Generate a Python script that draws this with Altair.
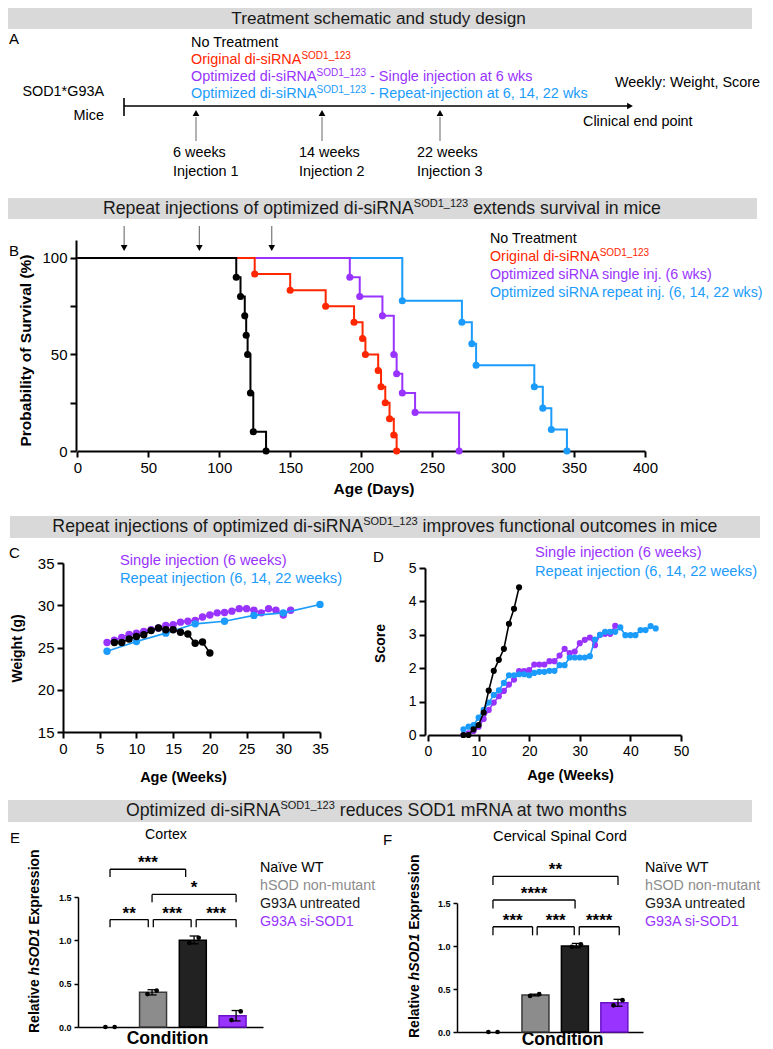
import altair as alt
import pandas as pd

FONT = "Liberation Sans"
RED = "#ff2600"
PURPLE = "#9933ff"
BLUE = "#1b9cfc"
BLACK = "#000000"
BARGRAY = "#d9d9d9"
TITLECOL = "#1a1a1a"

W, H = 757, 1041
M = 8  # page margin

# ---------------- data ----------------
# Panel B: Kaplan-Meier events (day of death, % surviving after it)
b_none_days = [112, 115, 118, 119, 120, 122, 124, 133]
b_none_surv = [90, 80, 70, 60, 50, 30, 10, 0]
b_orig_days = [125, 150, 175, 195, 201, 203, 212, 214, 217, 220, 223, 225]
b_orig_surv = [91.7, 83.3, 75, 66.7, 58.3, 50, 41.7, 33.3, 25, 16.7, 8.3, 0]
b_single_days = [192, 199, 215, 223, 225, 229, 238, 269]
b_single_surv = [90, 80, 70, 50, 40, 30, 20, 0]
b_repeat_days = [229, 271, 278, 281, 322, 328, 334, 345]
b_repeat_surv = [77.8, 66.7, 55.6, 44.4, 33.3, 22.2, 11.1, 0]
b_arrow_days = [33, 86, 137]

# Panel C: weight (g) by age (weeks)
c_single_wk = list(range(6, 32))
c_single_wt = [25.6, 25.85, 26.2, 26.55, 26.7, 26.9, 27.1, 27.3, 27.6, 27.7, 28.0, 28.1, 28.2,
               28.6, 28.85, 29.1, 29.15, 29.3, 29.6, 29.6, 29.4, 29.1, 29.6, 29.4, 28.85, 29.4]
c_repeat_wk = [6, 10, 14, 18, 22, 26, 30, 35]
c_repeat_wt = [24.55, 25.7, 26.7, 27.8, 28.1, 28.8, 29.1, 30.1]
c_none_wk = list(range(7, 21))
c_none_wt = [25.6, 25.6, 26.0, 26.3, 26.5, 27.0, 27.3, 27.1, 27.1, 26.8, 26.6, 25.5, 25.65, 24.35]

# Panel D: score by age (weeks)
d_single_wk = list(range(7, 38))
d_single_sc = [0.0, 0.05, 0.12, 0.25, 0.48, 0.75, 0.97, 1.16, 1.32, 1.51, 1.66, 1.91, 1.91, 1.94,
               2.11, 2.11, 2.11, 2.21, 2.21, 2.38, 2.58, 2.45, 2.5, 2.75, 2.85, 2.92, 2.69, 3.0,
               3.03, 3.03, 3.27]
d_repeat_wk = list(range(7, 46))
d_repeat_sc = [0.17, 0.25, 0.3, 0.52, 0.75, 0.97, 1.2, 1.34, 1.56, 1.79, 1.79, 1.82, 1.82, 1.79,
               1.86, 1.89, 1.89, 1.92, 1.92, 2.09, 2.09, 2.32, 2.32, 2.32, 2.32, 2.36, 2.86, 3.0,
               3.09, 3.09, 3.09, 3.22, 2.99, 2.99, 2.99, 3.14, 3.14, 3.26, 3.19]
d_none_wk = list(range(7, 19))
d_none_sc = [0, 0, 0.17, 0.3, 0.67, 1.33, 1.92, 2.25, 2.58, 3.33, 3.78, 4.42]

# Panels E/F: relative hSOD1 expression
conditions = ["Naïve WT", "hSOD non-mutant", "G93A untreated", "G93A si-SOD1"]
cond_pos = [1, 2, 3, 4]
cond_fill = ["#ffffff", "#8c8c8c", "#222222", PURPLE]
cond_stroke = ["#000000", "#3a3a3a", "#000000", "#6a12c8"]
cond_text = [BLACK, "#8c8c8c", "#1a1a1a", PURPLE]
e_mean = [0.0, 0.40, 1.00, 0.13]
e_lo = [0.0, 0.37, 0.96, 0.07]
e_hi = [0.0, 0.43, 1.05, 0.19]
e_rep1 = [0.0, 0.38, 0.97, 0.08]
e_rep2 = [0.0, 0.42, 1.03, 0.18]
f_mean = [0.0, 0.43, 1.00, 0.34]
f_lo = [0.0, 0.42, 0.98, 0.30]
f_hi = [0.0, 0.44, 1.03, 0.38]
f_rep1 = [0.0, 0.42, 0.99, 0.31]
f_rep2 = [0.0, 0.44, 1.02, 0.37]
e_br_from = [1, 2, 1, 2.03, 3.05]
e_br_to = [2.8, 4, 1.91, 2.93, 4]
e_br_level = [1.82, 1.53, 1.24, 1.24, 1.24]
e_br_label = ["***", "*", "**", "***", "***"]
f_br_from = [1, 1, 1, 2.06, 3.07]
f_br_to = [4, 2.97, 1.95, 2.95, 4.03]
f_br_level = [1.81, 1.535, 1.224, 1.224, 1.224]
f_br_label = ["**", "****", "***", "***", "****"]

# ---------------- text layout helpers ----------------
AW = {' ': 278, '!': 278, '(': 333, ')': 333, '*': 389, ',': 278, '-': 333, '.': 278,
      '_': 556, ':': 278, '%': 889, 'ï': 278}
for ch in '0123456789':
    AW[ch] = 556
AW.update(dict(A=667, B=667, C=722, D=722, E=667, F=611, G=778, H=722, I=278, J=500, K=667,
               L=556, M=833, N=722, O=778, P=667, Q=778, R=722, S=667, T=611, U=722, V=667,
               W=944, X=667, Y=667, Z=611))
AW.update(dict(a=556, b=556, c=500, d=556, e=556, f=278, g=556, h=556, i=222, j=222, k=500,
               l=222, m=833, n=556, o=556, p=556, q=556, r=333, s=500, t=278, u=556, v=500,
               w=722, x=500, y=500, z=500))
BW = {'R': 722, 'e': 556, 'l': 278, 'a': 556, 't': 333, 'i': 278, 'v': 556, ' ': 278, 'h': 611,
      'S': 667, 'O': 778, 'D': 722, '1': 556, 'E': 667, 'x': 556, 'p': 611, 'r': 389,
      's': 556, 'o': 611, 'n': 611}


def tw(s, size, bold=False):
    tab = BW if bold else AW
    return sum(tab.get(c, 556) for c in s) * size / 1000.0


texts = []


def T(x, y, text, size=14.4, color=BLACK, weight="normal", style="normal", align="left",
      baseline="middle", angle=0):
    texts.append(dict(x=x - M, y=y - M, text=text, size=size, color=color, weight=weight,
                      style=style, align=align, baseline=baseline, angle=angle))


def runs(parts, x0, y, size, color, sup_size, sup_dy, center=False):
    total = sum(tw(t, sup_size if s else size) for t, s in parts)
    x = x0 - total / 2.0 if center else x0
    for t, s in parts:
        sz = sup_size if s else size
        lead = len(t) - len(t.lstrip(' '))
        x += tw(' ' * lead, sz)
        t2 = t.lstrip(' ')
        T(x, y + (sup_dy if s else 0), t2, sz, color)
        x += tw(t2, sz)


SUP = "SOD1_123"
# section titles
TS, TSS = 17.7, 11
runs([("Treatment schematic and study design", False)], 379, 19, 17.2, TITLECOL, TSS, -5, True)
runs([("Repeat injections of optimized di-siRNA", False), (SUP, True),
      (" extends survival in mice", False)], 382, 209, TS, TITLECOL, TSS, -5, True)
runs([("Repeat injections of optimized di-siRNA", False), (SUP, True),
      (" improves functional outcomes in mice", False)], 385, 527, TS, TITLECOL, TSS, -5, True)
runs([("Optimized di-siRNA", False), (SUP, True),
      (" reduces SOD1 mRNA at two months", False)], 377, 811, TS, TITLECOL, TSS, -5, True)

# panel letters
T(9, 39, "A", 15)
T(9, 251, "B", 15)
T(9, 553, "C", 15)
T(373, 557, "D", 15)
T(10, 838, "E", 15)
T(383, 840, "F", 15)

# panel A schematic text
AS, ASS = 14.4, 10
runs([("No Treatment", False)], 191, 43, AS, BLACK, ASS, -4)
runs([("Original di-siRNA", False), (SUP, True)], 191, 60, AS, RED, ASS, -4)
runs([("Optimized di-siRNA", False), (SUP, True), (" - Single injection at 6 wks", False)],
     191, 77, AS, PURPLE, ASS, -4)
runs([("Optimized di-siRNA", False), (SUP, True), (" - Repeat-injection at 6, 14, 22 wks", False)],
     191, 94, AS, BLUE, ASS, -4)
T(104, 92, "SOD1*G93A", AS, align="right")
T(104, 116, "Mice", AS, align="right")
T(615, 83, "Weekly: Weight, Score", AS)
T(583, 122, "Clinical end point", AS)
for x0, wk, inj in [(173, "6 weeks", "Injection 1"), (299, "14 weeks", "Injection 2"),
                    (417, "22 weeks", "Injection 3")]:
    T(x0, 153, wk, AS)
    T(x0, 172, inj, AS)

# panel B legend
BS = 14.3
runs([("No Treatment", False)], 490, 239, BS, BLACK, ASS, -4)
runs([("Original di-siRNA", False), (SUP, True)], 490, 257, BS, RED, ASS, -4)
runs([("Optimized siRNA single inj. (6 wks)", False)], 490, 275, BS, PURPLE, ASS, -4)
runs([("Optimized siRNA repeat inj. (6, 14, 22 wks)", False)], 490, 293, BS, BLUE, ASS, -4)

# panel C / D legends
LS = 14.7
T(120, 561, "Single injection (6 weeks)", LS, PURPLE)
T(120, 579, "Repeat injection (6, 14, 22 weeks)", LS, BLUE)
T(535, 553, "Single injection (6 weeks)", LS, PURPLE)
T(535, 572, "Repeat injection (6, 14, 22 weeks)", LS, BLUE)

# panel E / F titles and legends
T(166, 835, "Cortex", 14.2, align="center")
T(560, 837, "Cervical Spinal Cord", 14.7, align="center")
for lx in (260, 645):
    for name, col, ly in zip(conditions, cond_text, [868, 886, 904, 922]):
        T(lx, ly, name, 14.3, col)

# rotated y titles with italic gene name
for xc, ystart in [(35, 1033), (415, 1038)]:
    yy = ystart
    for part, sty in [("Relative ", "normal"), ("hSOD1", "italic"), (" Expression", "normal")]:
        lead = len(part) - len(part.lstrip(' '))
        yy -= tw(' ' * lead, 14, True)
        p2 = part.strip(' ')
        T(xc, yy, p2, 14, BLACK, weight="bold", style=sty, angle=270)
        yy -= tw(p2, 14, True)
        yy -= tw(' ' * (len(part) - len(part.rstrip(' '))), 14, True)

tdf = pd.DataFrame(texts)
text_layers = []
for (wgt, sty, al, bl), g in tdf.groupby(["weight", "style", "align", "baseline"]):
    text_layers.append(
        alt.Chart(g.reset_index(drop=True)).mark_text(
            font=FONT, fontWeight=wgt, fontStyle=sty, align=al, baseline=bl
        ).encode(
            x=alt.X("x:Q", scale=None, axis=None),
            y=alt.Y("y:Q", scale=None, axis=None),
            text="text:N",
            size=alt.Size("size:Q", scale=None, legend=None),
            color=alt.Color("color:N", scale=None, legend=None),
            angle=alt.Angle("angle:Q", scale=None, legend=None),
        )
    )

# ---------------- decorative layout shapes ----------------
bars_df = pd.DataFrame({
    "x": [5, 7, 10, 3], "x2": [752, 757, 760, 752],
    "y": [8, 198, 516, 800], "y2": [29, 219, 538, 822],
})
bars_df -= M
title_bars = alt.Chart(bars_df).mark_rect(color=BARGRAY).encode(
    x=alt.X("x:Q", scale=None, axis=None), x2="x2:Q",
    y=alt.Y("y:Q", scale=None, axis=None), y2="y2:Q")

seg = pd.DataFrame({
    "x": [124, 124, 196, 322, 440], "x2": [628, 124, 196, 322, 440],
    "y": [106, 98, 117, 117, 117], "y2": [106, 116, 141, 141, 141],
    "col": [BLACK, BLACK, "#666666", "#666666", "#666666"], "sw": [1.6, 1.6, 1.0, 1.0, 1.0],
})
seg[["x", "x2", "y", "y2"]] -= M
schem_lines = alt.Chart(seg).mark_rule().encode(
    x=alt.X("x:Q", scale=None, axis=None), x2="x2:Q",
    y=alt.Y("y:Q", scale=None, axis=None), y2="y2:Q",
    color=alt.Color("col:N", scale=None), strokeWidth=alt.StrokeWidth("sw:Q", scale=None))
heads = pd.DataFrame({"x": [196, 322, 440, 630], "y": [113, 113, 113, 106],
                      "shape": ["triangle-up"] * 3 + ["triangle-right"]})
heads[["x", "y"]] -= M
schem_heads = alt.Chart(heads).mark_point(filled=True, color=BLACK, opacity=1, size=45).encode(
    x=alt.X("x:Q", scale=None, axis=None), y=alt.Y("y:Q", scale=None, axis=None),
    shape=alt.Shape("shape:N", scale=None))


# ---------------- axis style helper ----------------
def axis(orient, offset, values, title=None, titleX=None, titleY=None, lsize=15, tsize=15,
         label_expr=None, dw=2, tick=6, bold_labels=False, labels=True, ticks=True):
    kw = dict(orient=orient, offset=offset, grid=False, domainColor=BLACK, domainWidth=dw,
              tickColor=BLACK, tickWidth=dw, tickSize=tick, labelFontSize=lsize,
              labelColor=BLACK, labelFont=FONT, labelFlush=False, labelOverlap=False,
              labelPadding=3, titleFont=FONT, titleFontSize=tsize, titleFontWeight="bold",
              titleColor=BLACK, labels=labels, ticks=ticks)
    if values is not None:
        kw["values"] = values
    if bold_labels:
        kw["labelFontWeight"] = "bold"
    if label_expr:
        kw["labelExpr"] = label_expr
    if title is None:
        kw["title"] = None
    else:
        kw.update(title=title, titleX=titleX, titleY=titleY, titleBaseline="middle",
                  titleAlign="center")
    return alt.Axis(**kw)


layers = [title_bars, schem_lines, schem_heads]

# ---------------- Panel B ----------------
bx = alt.Scale(domain=[0, 400], range=[77.3 - M, 645 - M], nice=False, zero=False)
by = alt.Scale(domain=[0, 109.3], range=[451 - M, 240 - M], nice=False, zero=False)
bx_axis = axis("bottom", (451 - M) - H, list(range(0, 401, 50)), "Age (Days)",
               373.5 - M, 488 - 451, 15, 15.5)
by_axis = axis("left", -(76 - M), [0, 25, 50, 75, 100], "Probability of Survival (%)",
               (25 - M) - (76 - M), 350 - M, 15, 15.5,
               label_expr="datum.value % 50 === 0 ? datum.label : ''")

first = True
for days, surv, col in [(b_repeat_days, b_repeat_surv, BLUE), (b_single_days, b_single_surv, PURPLE),
                        (b_orig_days, b_orig_surv, RED), (b_none_days, b_none_surv, BLACK)]:
    line_df = pd.DataFrame({"day": [0] + days, "surv": [100] + surv})
    layers.append(alt.Chart(line_df).mark_line(interpolate="step-after", color=col, strokeWidth=2).encode(
        x=alt.X("day:Q", scale=bx, axis=bx_axis if first else None),
        y=alt.Y("surv:Q", scale=by, axis=by_axis if first else None)))
    first = False
    ev = pd.DataFrame({"day": days, "surv": surv})
    layers.append(alt.Chart(ev).mark_circle(color=col, size=50, opacity=1).encode(
        x=alt.X("day:Q", scale=bx, axis=None), y=alt.Y("surv:Q", scale=by, axis=None)))
arr_df = pd.DataFrame({"day": b_arrow_days})
layers.append(alt.Chart(arr_df).mark_rule(color="#777777", strokeWidth=1.2).encode(
    x=alt.X("day:Q", scale=bx, axis=None), y=alt.value(226 - M), y2=alt.value(246 - M)))
layers.append(alt.Chart(arr_df).mark_point(shape="triangle-down", filled=True, color=BLACK,
                                           opacity=1, size=45).encode(
    x=alt.X("day:Q", scale=bx, axis=None), y=alt.value(248 - M)))

# ---------------- Panel C ----------------
cx = alt.Scale(domain=[0, 35], range=[63 - M, 320 - M], nice=False, zero=False)
cy = alt.Scale(domain=[15, 35], range=[732 - M, 563 - M], nice=False, zero=False)
cx_axis = axis("bottom", (732 - M) - H, list(range(0, 36, 5)), "Age (Weeks)", 183 - M, 777 - 732, 15, 14.5)
cy_axis = axis("left", -(63 - M), list(range(15, 36, 5)), "Weight (g)", (17 - M) - (63 - M), 648 - M, 15, 14)
first = True
for wk, val, col in [(c_single_wk, c_single_wt, PURPLE), (c_repeat_wk, c_repeat_wt, BLUE),
                     (c_none_wk, c_none_wt, BLACK)]:
    df = pd.DataFrame({"wk": wk, "v": val})
    layers.append(alt.Chart(df).mark_line(color=col, strokeWidth=1.6).encode(
        x=alt.X("wk:Q", scale=cx, axis=cx_axis if first else None),
        y=alt.Y("v:Q", scale=cy, axis=cy_axis if first else None)))
    first = False
    layers.append(alt.Chart(df).mark_circle(color=col, size=55, opacity=1).encode(
        x=alt.X("wk:Q", scale=cx, axis=None), y=alt.Y("v:Q", scale=cy, axis=None)))

# ---------------- Panel D ----------------
dxs = alt.Scale(domain=[0, 50], range=[428 - M, 681 - M], nice=False, zero=False)
dys = alt.Scale(domain=[0, 5], range=[735 - M, 568 - M], nice=False, zero=False)
dx_axis = axis("bottom", (735 - M) - H, list(range(0, 51, 10)), "Age (Weeks)", 570 - M, 775 - 735, 14, 14.5)
dy_axis = axis("left", -(425 - M), list(range(0, 6)), "Score", (380 - M) - (425 - M), 643 - M, 14, 14)
first = True
for wk, val, col in [(d_single_wk, d_single_sc, PURPLE), (d_repeat_wk, d_repeat_sc, BLUE),
                     (d_none_wk, d_none_sc, BLACK)]:
    df = pd.DataFrame({"wk": wk, "v": val})
    layers.append(alt.Chart(df).mark_line(color=col, strokeWidth=1.6).encode(
        x=alt.X("wk:Q", scale=dxs, axis=dx_axis if first else None),
        y=alt.Y("v:Q", scale=dys, axis=dy_axis if first else None)))
    first = False
    layers.append(alt.Chart(df).mark_circle(color=col, size=38, opacity=1).encode(
        x=alt.X("wk:Q", scale=dxs, axis=None), y=alt.Y("v:Q", scale=dys, axis=None)))


# ---------------- Panels E / F ----------------
def bar_panel(xdom, xr, yr, cond_title_xy, mean, lo, hi, r1, r2, bfrom, bto, blevel, blabel, tickh):
    xs = alt.Scale(domain=xdom, range=xr, nice=False, zero=False)
    ys = alt.Scale(domain=[0, 1.5], range=yr, nice=False, zero=False)
    xa = axis("bottom", yr[0] - H, [], "Condition", cond_title_xy[0], cond_title_xy[1],
              9, 17.5, dw=1.5, labels=False, ticks=False)
    ya = axis("left", -xr[0], [0, 0.5, 1.0, 1.5], None, lsize=9, dw=1.5, tick=4, bold_labels=True,
              label_expr="format(datum.value, '.1f')")
    df = pd.DataFrame({"pos": cond_pos, "mean": mean, "lo": lo, "hi": hi, "fill": cond_fill,
                       "stroke": cond_stroke, "base": [0] * 4})
    dpos = df[df["mean"] > 0]
    out = []
    out.append(alt.Chart(dpos).mark_bar(size=27, strokeWidth=1.5).encode(
        x=alt.X("pos:Q", scale=xs, axis=xa), y=alt.Y("mean:Q", scale=ys, axis=ya), y2="base:Q",
        color=alt.Color("fill:N", scale=None), stroke=alt.Stroke("stroke:N", scale=None)))
    out.append(alt.Chart(dpos).mark_rule(color=BLACK, strokeWidth=1.3).encode(
        x=alt.X("pos:Q", scale=xs, axis=None), y=alt.Y("lo:Q", scale=ys, axis=None), y2="hi:Q"))
    for fld in ("hi", "lo"):
        out.append(alt.Chart(dpos).mark_tick(orient="horizontal", size=9, thickness=1.3,
                                             color=BLACK, opacity=1).encode(
            x=alt.X("pos:Q", scale=xs, axis=None), y=alt.Y(f"{fld}:Q", scale=ys, axis=None)))
    jitter = 0.11
    dots_df = pd.DataFrame({"x": [p - jitter for p in cond_pos] + [p + jitter for p in cond_pos],
                            "v": r1 + r2})
    out.append(alt.Chart(dots_df).mark_circle(color=BLACK, size=22, opacity=1).encode(
        x=alt.X("x:Q", scale=xs, axis=None), y=alt.Y("v:Q", scale=ys, axis=None)))
    br = pd.DataFrame({"a": bfrom, "b": bto, "lev": blevel, "lab": blabel})
    br["low"] = br["lev"] - tickh
    br["mid"] = (br["a"] + br["b"]) / 2
    out.append(alt.Chart(br).mark_rule(color=BLACK, strokeWidth=1.3).encode(
        x=alt.X("a:Q", scale=xs, axis=None), x2="b:Q", y=alt.Y("lev:Q", scale=ys, axis=None)))
    for end in ("a", "b"):
        out.append(alt.Chart(br).mark_rule(color=BLACK, strokeWidth=1.3).encode(
            x=alt.X(f"{end}:Q", scale=xs, axis=None), y=alt.Y("lev:Q", scale=ys, axis=None),
            y2="low:Q"))
    out.append(alt.Chart(br).mark_text(font=FONT, fontWeight="bold", fontSize=17,
                                       baseline="alphabetic", dy=-1, color=BLACK).encode(
        x=alt.X("mid:Q", scale=xs, axis=None), y=alt.Y("lev:Q", scale=ys, axis=None), text="lab:N"))
    return out


layers += bar_panel([0.238, 4.64], [78 - M, 263 - M], [1027 - M, 897 - M], (167 - M, 1038 - 1027),
                    e_mean, e_lo, e_hi, e_rep1, e_rep2, e_br_from, e_br_to, e_br_level, e_br_label, 0.09)
layers += bar_panel([0.137, 4.6], [457 - M, 643 - M], [1032 - M, 903 - M], (562 - M, 1039 - 1032),
                    f_mean, f_lo, f_hi, f_rep1, f_rep2, f_br_from, f_br_to, f_br_level, f_br_label, 0.1)
layers += text_layers

chart = alt.layer(*layers).resolve_scale(x="independent", y="independent").properties(
    width=W, height=H, autosize=alt.AutoSizeParams(type="none"), padding=0
).configure_view(stroke=None).configure_axis(grid=False)

chart.save("out.html", embed_options={"renderer": "svg", "actions": False})
